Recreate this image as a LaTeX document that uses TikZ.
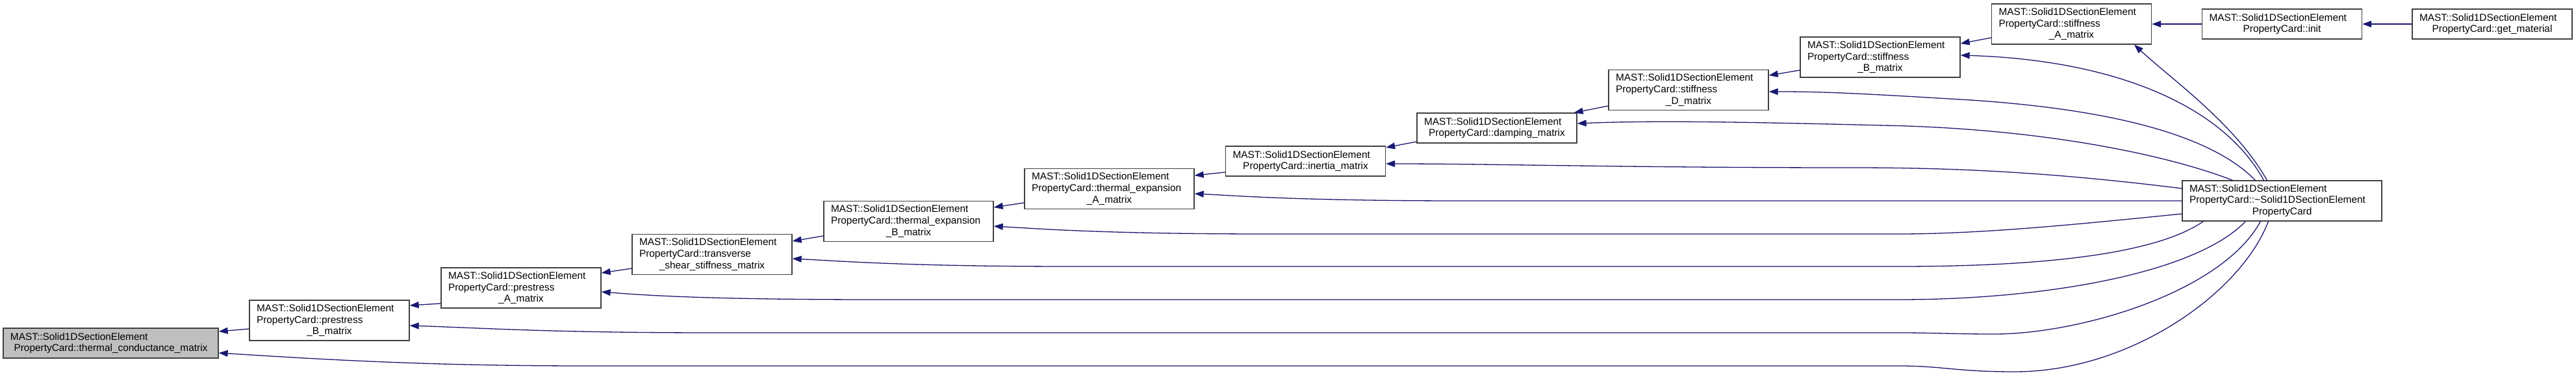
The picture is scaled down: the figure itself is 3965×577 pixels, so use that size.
\documentclass[tikz,border=0pt]{standalone}
\usepackage{fontspec}
\setmainfont{Liberation Sans}
\usetikzlibrary{arrows.meta,calc}
\definecolor{edgeblue}{HTML}{191970}
\definecolor{boxline}{HTML}{404040}
\definecolor{grayfill}{HTML}{BFBFBF}
\newcommand\Ll[1]{\makebox[\linewidth][l]{#1}}
\newcommand\Lc[1]{\makebox[\linewidth][c]{#1}}
\newcommand\MS{\Ll{MAST::Solid1DSectionElement}}
\begin{document}
\begin{tikzpicture}[x=1pt,y=-1pt,
  fn/.style={draw=boxline, line width=1.3pt, fill=white, inner xsep=11pt, inner ysep=0pt,
    align=left, font=\fontsize{15.4}{17.8}\selectfont, minimum height=62pt,
    text width=224pt, minimum width=246pt},
  two/.style={minimum height=46pt},
  wideb/.style={text width=239pt, minimum width=261pt},
  grayb/.style={text width=309pt, minimum width=331pt, fill=grayfill},
  dtorb/.style={text width=285pt, minimum width=307pt},
  conn/.style={draw=edgeblue, line width=1.3pt, -{Triangle[length=14pt,width=10pt]}}]
\useasboundingbox (0,0) rectangle (3965,577);

\node[fn,two,grayb] (gray) at (170.5,528) {\MS\\\Lc{PropertyCard::thermal\_conductance\_matrix}};
\node[fn] (pB) at (507,493) {\MS\\\Ll{PropertyCard::prestress}\\\Lc{\_B\_matrix}};
\node[fn] (pA) at (802,443) {\MS\\\Ll{PropertyCard::prestress}\\\Lc{\_A\_matrix}};
\node[fn] (tr) at (1096,391.5) {\MS\\\Ll{PropertyCard::transverse}\\\Lc{\_shear\_stiffness\_matrix}};
\node[fn,wideb] (teB) at (1398.5,340.5) {\MS\\\Ll{PropertyCard::thermal\_expansion}\\\Lc{\_B\_matrix}};
\node[fn,wideb] (teA) at (1707.5,290.5) {\MS\\\Ll{PropertyCard::thermal\_expansion}\\\Lc{\_A\_matrix}};
\node[fn,two] (inr) at (2009.5,248) {\MS\\\Lc{PropertyCard::inertia\_matrix}};
\node[fn,two] (da) at (2304,197) {\MS\\\Lc{PropertyCard::damping\_matrix}};
\node[fn] (sD) at (2599,138.5) {\MS\\\Ll{PropertyCard::stiffness}\\\Lc{\_D\_matrix}};
\node[fn] (sB) at (2894,88) {\MS\\\Ll{PropertyCard::stiffness}\\\Lc{\_B\_matrix}};
\node[fn] (sA) at (3188.5,37) {\MS\\\Ll{PropertyCard::stiffness}\\\Lc{\_A\_matrix}};
\node[fn,two] (init) at (3512.5,37) {\MS\\\Lc{PropertyCard::init}};
\node[fn,two] (gm) at (3836,37) {\MS\\\Lc{PropertyCard::get\_material}};
\node[fn,dtorb] (dtor) at (3512.5,309) {\MS\\\Ll{PropertyCard::\textasciitilde Solid1DSectionElement}\\\Lc{PropertyCard}};

% chain edges
\draw[conn] ($(pB.west)+(0,13)$) -- ($(gray.east)+(0,-18)$);
\draw[conn] ($(pA.west)+(0,24)$) -- ($(pB.east)+(0,-23)$);
\draw[conn] ($(tr.west)+(0,21.5)$) -- ($(pA.east)+(0,-23)$);
\draw[conn] ($(teB.west)+(0,22.5)$) -- ($(tr.east)+(0,-20.5)$);
\draw[conn] ($(teA.west)+(0,21.5)$) -- ($(teB.east)+(0,-21.5)$);
\draw[conn] ($(inr.west)+(0,17)$) -- ($(teA.east)+(0,-20.5)$);
\draw[conn] ($(da.west)+(0,21)$) -- ($(inr.east)+(0,-21)$);
\draw[conn] ($(sD.west)+(0,24.5)$) -- ($(da.north east)+(-5,0)$);
\draw[conn] ($(sB.west)+(0,20)$) -- ($(sD.east)+(0,-22.5)$);
\draw[conn] ($(sA.west)+(0,21)$) -- ($(sB.east)+(0,-21)$);
\draw[conn] (init) -- (sA);
\draw[conn] (gm) -- (init);

% destructor edges
\draw[conn] ($(dtor.south west)+(133,0)$) .. controls (3450,450) and (3280,572) .. (3101,572)
  .. controls (3010,572) and (2990,563) .. (2923,563) -- (900,563)
  .. controls (650,563) and (480,552) .. ($(gray.east)+(0,15)$);
\draw[conn] ($(dtor.south west)+(121,0)$) .. controls (3420,450) and (3200,514) .. (3070,514)
  .. controls (3000,514) and (2980,512) .. (2923,512) -- (1100,512)
  .. controls (850,512) and (750,505) .. ($(pB.east)+(0,8)$);
\draw[conn] ($(dtor.south west)+(98,0)$) .. controls (3380,420) and (3150,461) .. (2923,461)
  -- (1350,461) .. controls (1100,461) and (1000,455) .. ($(pA.east)+(0,6)$);
\draw[conn] ($(dtor.south west)+(33,0)$) .. controls (3320,390) and (3150,410) .. (2923,410)
  -- (1650,410) .. controls (1400,410) and (1300,402) .. ($(tr.east)+(0,6.5)$);
\draw[conn] ($(dtor.west)+(0,20)$) .. controls (3200,345) and (3050,360) .. (2923,360)
  -- (1950,360) .. controls (1700,360) and (1600,352) .. ($(teB.east)+(0,7.5)$);
\draw[conn] (dtor.west) -- (2250,309) .. controls (2000,309) and (1900,301) .. ($(teA.east)+(0,7.5)$);
\draw[conn] ($(dtor.west)+(0,-19)$) .. controls (3150,264) and (3000,258) .. (2850,258)
  .. controls (2500,258) and (2300,252) .. ($(inr.east)+(0,4)$);
\draw[conn] ($(dtor.north west)+(78,0)$) .. controls (3340,240) and (3150,198) .. (2900,193)
  .. controls (2700,188) and (2550,185) .. ($(da.east)+(0,-7)$);
\draw[conn] ($(dtor.north west)+(113,0)$) .. controls (3420,225) and (3300,168) .. (3000,152)
  .. controls (2850,143) and (2800,141) .. ($(sD.east)+(0,2.5)$);
\draw[conn] ($(dtor.north west)+(126,0)$) .. controls (3420,160) and (3250,92) .. ($(sB.east)+(0,-3)$);
\draw[conn] ($(dtor.north west)+(131,0)$) .. controls (3440,190) and (3340,120) .. ($(sA.south)+(96.5,0)$);
\end{tikzpicture}
\end{document}
